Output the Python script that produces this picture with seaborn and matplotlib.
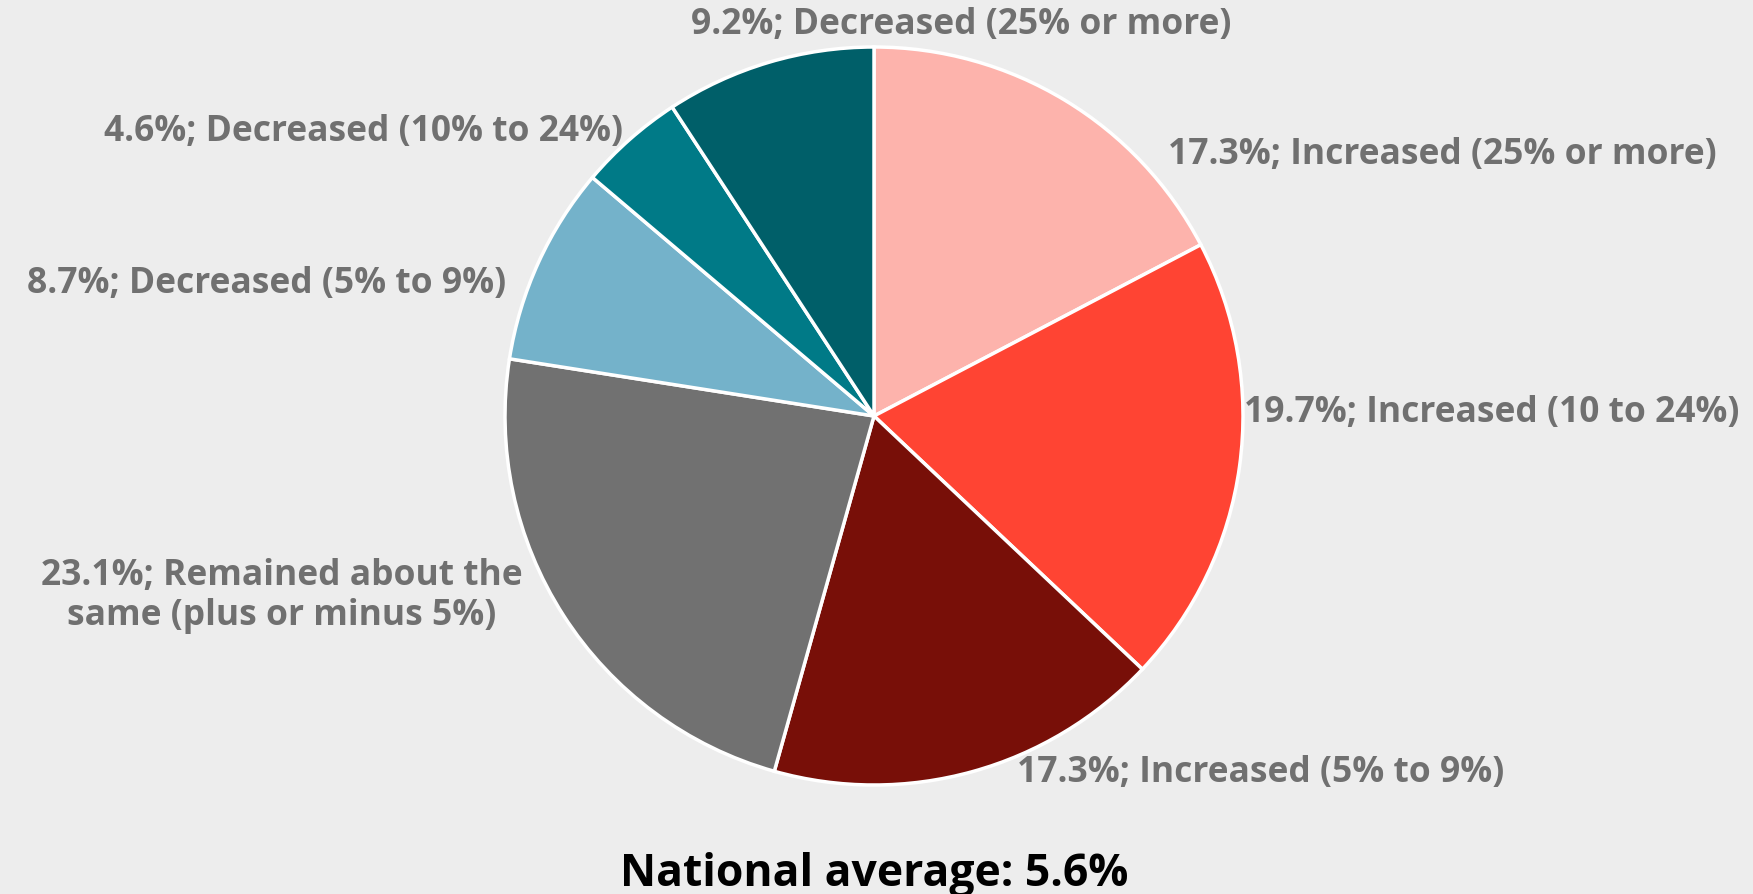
import matplotlib
matplotlib.use("Agg")
import matplotlib.pyplot as plt
import seaborn as sns

# share of responses, clockwise from the top
categories = ["Increased (25% or more)", "Increased (10 to 24%)", "Increased (5% to 9%)",
              "Remained about the\nsame (plus or minus 5%)", "Decreased (5% to 9%)",
              "Decreased (10% to 24%)", "Decreased (25% or more)"]
shares = [17.3, 19.7, 17.3, 23.1, 8.7, 4.6, 9.2]
colors = ["#fdb3ac", "#ff4433", "#780f08", "#717171", "#74b2ca", "#007a87", "#005f69"]
national_average = 5.6

# label anchor points in figure pixels (from top-left) and alignment
label_xy = [(1168, 155), (1244, 413), (1017, 773), (282, 596), (506, 284), (623, 132), (961, 25)]
label_ha = ["left", "left", "left", "center", "right", "right", "center"]

W, H = 1753, 895
bg = "#ededed"

sns.set_theme(style="white")
plt.rcParams["font.family"] = ["Open Sans", "DejaVu Sans"]

fig = plt.figure(figsize=(W / 100, H / 100), dpi=100, facecolor=bg)

# pie centre and radius in pixels
cx, cy, r = 874, 417, 369
ax = fig.add_axes([(cx - r) / W, (H - cy - r) / H, 2 * r / W, 2 * r / H])
ax.set_facecolor(bg)

ax.pie(shares, colors=colors, startangle=90, counterclock=False, radius=1,
       wedgeprops=dict(edgecolor="white", linewidth=2.5))
ax.set_xlim(-1, 1)
ax.set_ylim(-1, 1)
ax.set_aspect("equal")
ax.axis("off")

for cat, val, (x, y), ha in zip(categories, shares, label_xy, label_ha):
    fig.text(x / W, 1 - y / H, f"{val:.1f}%; {cat}", ha=ha, va="center",
             fontsize=25.5, fontweight="bold", color="#707070", linespacing=1.12,
             multialignment="center")

fig.text(874 / W, 1 - 875 / H, f"National average: {national_average}%", ha="center",
         va="center", fontsize=32, fontweight="bold", color="black")

fig.savefig("out.png", dpi=100, facecolor=bg)
